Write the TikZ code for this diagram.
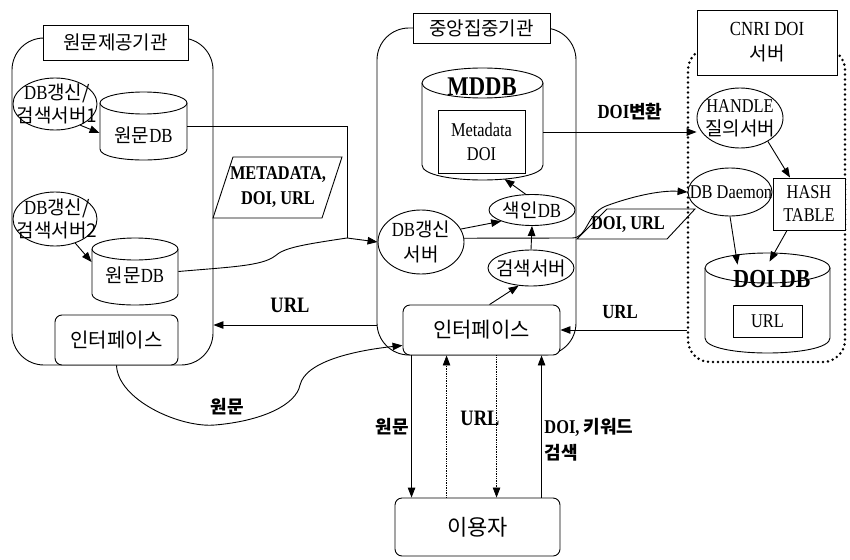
\documentclass[tikz,border=0pt]{standalone}
\usepackage{fontspec}
\setmainfont{Liberation Serif}[FakeStretch=0.84]
\newfontfamily\kr{Noto Sans CJK KR}
\usetikzlibrary{shapes.geometric,arrows.meta}
\newcommand\K[1]{{\kr\fontsize{19}{20}\selectfont #1}}
\newcommand\Kb[1]{{\kr\bfseries\fontsize{18}{20}\selectfont #1}}
% cylinder: left, top, right, bottom, ry, rx
\newcommand\mycyl[6]{%
  \draw[fill=white] (#1,{#2+#5}) -- (#1,{#4-#5}) .. controls (#1,{#4+#5/3}) and (#3,{#4+#5/3}) .. (#3,{#4-#5}) -- (#3,{#2+#5});
  \draw[fill=white] ({(#1+#3)/2},{#2+#5}) ellipse [x radius=#6pt, y radius=#5pt];
}
\begin{document}
\begin{tikzpicture}[x=1pt,y=-1pt,line width=0.9pt,
  every node/.style={font=\fontsize{20}{22}\selectfont},
  arr/.style={-{Triangle[length=10pt,width=7.5pt]}},
  ell/.style={ellipse,draw,fill=white,inner sep=0pt},
  tx/.style={align=center,inner sep=0pt},
  panel/.style={draw,rounded corners=32pt,inner sep=0pt},
  dotpanel/.style={draw,rounded corners=22pt,inner sep=0pt,line width=2.8pt,dash pattern=on 0pt off 5pt,line cap=round},
  titlebox/.style={draw,fill=white,inner sep=0pt,align=center},
  rbox/.style={draw,fill=white,rounded corners=7pt,inner sep=0pt,align=center},
  plainbox/.style={draw,fill=white,inner sep=0pt,align=center},
  hold/.style={inner sep=0pt},
  lbl/.style={font=\bfseries\fontsize{20}{22}\selectfont,inner sep=0pt,align=center}]
\useasboundingbox (0,0) rectangle (850,559);

% panels
\node[panel,minimum width=201pt,minimum height=327pt] (lp) at (112.5,201.5) {};
\node[panel,minimum width=199pt,minimum height=327pt] (mp) at (476.5,191.5) {};
\node[dotpanel,minimum width=157pt,minimum height=314pt] (rp) at (766.5,205) {};

% title boxes
\node[titlebox,minimum width=145pt,minimum height=35pt] (lt) at (115.5,42.5) {\K{원문제공기관}};
\node[titlebox,minimum width=137pt,minimum height=30pt] (mt) at (481.5,28) {\K{중앙집중기관}};
\node[titlebox,minimum width=140pt,minimum height=65pt,font=\fontsize{20}{25}\selectfont] (rt) at (767,42.5) {CNRI DOI\\\K{서버}};

% ---- left panel ----
\node[ell,minimum width=84pt,minimum height=52pt] (e1) at (55,104) {};
\node[tx,font=\fontsize{20}{23}\selectfont] (e1t) at (57,104) {DB\K{갱신/}\\\K{검색서버1}};
\node[ell,minimum width=84pt,minimum height=54pt] (e2) at (55,219) {};
\node[tx,font=\fontsize{20}{23}\selectfont] (e2t) at (57,219) {DB\K{갱신/}\\\K{검색서버2}};

\node[hold,minimum width=87pt,minimum height=68pt] (db1) at (143.5,126) {};
\mycyl{100}{92}{187}{160}{11}{43.5}
\node[tx] (db1t) at (143.5,135) {\K{원문}DB};
\node[hold,minimum width=86pt,minimum height=67pt] (db2) at (135,271.5) {};
\mycyl{92}{238}{178}{305}{11}{43}
\node[tx] (db2t) at (135,275) {\K{원문}DB};

\draw[arr] (e1.-40) -- ([yshift=-7pt]db1.west);
\draw[arr] (e2.-50) -- ([yshift=9.5pt]db2.west);

\node[rbox,minimum width=123pt,minimum height=50pt] (ifl) at (116.5,340) {{\kr\fontsize{20}{22}\selectfont 인터페이스}};

% METADATA parallelogram
\draw (233,157) -- (342,157) -- (322,218) -- (213,218) -- cycle;
\node[lbl,font=\bfseries\fontsize{19.5}{25}\selectfont] (meta) at (278,187) {METADATA,\\DOI, URL};

% ---- middle panel ----
\node[hold,minimum width=121pt,minimum height=112pt] (mddb) at (482.5,124) {};
\mycyl{422}{68}{543}{180}{15}{60.5}
\node[tx,font=\bfseries\fontsize{27}{28}\selectfont] (mddbt) at (482,87) {MDDB};
\node[plainbox,minimum width=87pt,minimum height=63pt,font=\fontsize{19.5}{24}\selectfont] (mdbox) at (481.5,141.5) {Metadata\\DOI};

\node[ell,minimum width=86pt,minimum height=31pt] (idx) at (532,210) {};
\node[tx] (idxt) at (532,210) {\K{색인}DB};
\node[ell,minimum width=86pt,minimum height=64pt] (dbup) at (421,242) {};
\node[tx,font=\fontsize{20}{25}\selectfont] (dbupt) at (421,242) {DB\K{갱신}\\\K{서버}};
\node[ell,minimum width=86pt,minimum height=36pt] (srch) at (531,268) {};
\node[tx] (srcht) at (531,268) {\K{검색서버}};
\node[rbox,minimum width=157pt,minimum height=50pt] (ifm) at (481.5,330) {{\kr\fontsize{21}{22}\selectfont 인터페이스}};

\coordinate (j1) at (347,238);
\draw (db1.east) -| (j1);
\draw[arr] (db2.east) .. controls (230,267) and (262,266) .. (275,256)
  .. controls (284,248) and (300,245) .. (j1) -- (dbup.west);
\draw[arr] (dbup.18) -- (idx.200);
\draw[arr] (idx.112) -- ([xshift=22pt,yshift=-55pt]mddb.center);
\draw[arr] (srch.north) -- (idx.south);
\draw[arr] ([xshift=8pt]ifm.north) -- (srch.235);

% ---- right panel ----
\node[ell,minimum width=86pt,minimum height=60pt] (hnd) at (740,118) {};
\node[tx,font=\fontsize{19.5}{23}\selectfont] (hndt) at (740,118) {HANDLE\\\K{질의서버}};
\node[ell,minimum width=84pt,minimum height=48pt] (dmn) at (730,192) {};
\node[tx,font=\fontsize{19.5}{20}\selectfont] (dmnt) at (731,192) {DB Daemon};
\node[plainbox,minimum width=72pt,minimum height=52pt,font=\fontsize{19.5}{23}\selectfont] (hash) at (809,204) {HASH\\TABLE};

\node[hold,minimum width=125pt,minimum height=100pt] (doidb) at (767.5,303) {};
\mycyl{705}{253}{830}{353}{15}{62.5}
\node[tx,font=\bfseries\fontsize{26}{28}\selectfont] (doidbt) at (772,279) {DOI DB};
\node[plainbox,minimum width=69pt,minimum height=32pt,font=\fontsize{19.5}{20}\selectfont] (urlbox) at (767.5,321) {URL};

\draw[arr] ([yshift=-8pt]mddb.east) -- ([yshift=-14pt]hnd.west);
\draw[arr] (hnd.-40) -- ([xshift=-19pt]hash.north);
\draw[arr] (dmn.south) -- ([xshift=-30pt,yshift=-12pt]doidb.north);
\draw[arr] ([xshift=-22pt]hash.south) -- ([xshift=2pt,yshift=-9pt]doidb.north);

% DOI, URL parallelogram and wire to DB Daemon
\draw (607,209) -- (695,209) -- (667,239) -- (577,239) -- cycle;
\node[lbl,font=\bfseries\fontsize{19.5}{20}\selectfont] (doiurl) at (628,225) {DOI, URL};
\draw[arr] (dbup.5) -- (572,238) .. controls (588,238) and (586,214) .. (606,206)
  .. controls (630,197) and (660,190) .. (dmn.west);

% URL arrows
\draw[arr] (rp.west |- ifm.east) -- (ifm.east);
\draw[arr] (mp.west |- 0,325) -- (lp.east |- 0,325);

% 원문 curve
\draw[arr] (ifl.south) .. controls (118,400) and (180,428) .. (215,425)
  .. controls (262,421) and (296,405) .. (300,385)
  .. controls (306,360) and (360,350) .. ([yshift=10pt]ifm.south west);

% user
\node[rbox,minimum width=165pt,minimum height=58pt] (user) at (477.5,527) {{\kr\fontsize{22}{24}\selectfont 이용자}};

\draw[arr] ([xshift=9pt]ifm.south west) -- ([xshift=9pt]ifm.south west |- user.north);
\draw[arr,densely dotted,line width=0.7pt] ([xshift=44pt]ifm.south west |- user.north) -- ([xshift=44pt]ifm.south west);
\draw[arr,densely dotted,line width=0.7pt] ([xshift=94pt]ifm.south west) -- ([xshift=94pt]ifm.south west |- user.north);
\draw[arr] ([xshift=139pt]ifm.south west |- user.north) -- ([xshift=139pt]ifm.south west);

% labels
\node[lbl] (lconv) at (630,112) {DOI\Kb{변환}};
\node[lbl] (lurlr) at (620,312) {URL};
\node[lbl,font=\bfseries\fontsize{22}{22}\selectfont] (lurll) at (290,305) {URL};
\node[lbl] (lw1) at (227,407) {\Kb{원문}};
\node[lbl] (lw2) at (392,427) {\Kb{원문}};
\node[lbl,font=\bfseries\fontsize{22}{22}\selectfont] (lurlb) at (480,418) {URL};
\node[lbl,anchor=west,align=left,font=\bfseries\fontsize{19.5}{26}\selectfont] (ldoik) at (544,440) {DOI, \Kb{키워드}\\\Kb{검색}};
\end{tikzpicture}
\end{document}
